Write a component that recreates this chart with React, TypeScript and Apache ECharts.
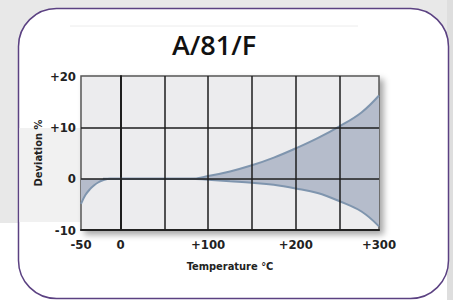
import React, { useEffect, useRef } from "react";
import * as echarts from "echarts";

// Temperature (°C) sample positions and deviation (%)
const upperTemps = [-20, 0, 50, 80, 100, 125, 150, 175, 200, 225, 250, 275, 295];
const upperDev = [0, 0, 0, 0, 0.5, 1.4, 2.6, 4.1, 5.9, 7.9, 10.2, 12.9, 16.2];
const lowerTemps = [-45, -40, -35, -30, -25, -20, -12, 0, 50, 80, 100, 125, 150, 175, 200, 225, 250, 275, 295];
const lowerDev = [-4.9, -3.2, -2.1, -1.3, -0.7, -0.3, 0, 0, 0, 0, -0.2, -0.5, -0.8, -1.2, -1.9, -2.8, -4.4, -6.4, -9.3];

const xGridValues = [0, 50, 100, 150, 200, 250];
const yGridValues = [0, 10];
const xLabelValues = [-45, 0, 100, 200, 295];
const xLabelTexts = ["-50", "0", "+100", "+200", "+300"];
const title = "A/81/F";
const xName = "Temperature °C";
const yName = "Deviation %";

const NARROW = "'DejaVu Sans Condensed', 'Liberation Sans Narrow', sans-serif";

export default function App() {
  const ref = useRef<HTMLDivElement>(null);
  useEffect(() => {
    document.body.style.margin = "0";
    const chart = echarts.init(ref.current!, null, { renderer: "svg" });
    const upper = upperTemps.map((t, i) => [t, upperDev[i]]);
    const lower = lowerTemps.map((t, i) => [t, lowerDev[i]]);
    const fill = "#b5bccb";
    const lineColor = "#7f95ae";
    const lineBase = { type: "line", smooth: 0.4, symbol: "none", silent: true };
    chart.setOption({
      animation: false,
      graphic: [
        { type: "rect", z: -10, shape: { x: 0, y: 0, width: 453, height: 223 }, style: { fill: "#e8e8e8" } },
        { type: "rect", z: -10, shape: { x: 0, y: 223, width: 453, height: 77 }, style: { fill: "#ffffff" } },
        { type: "rect", z: -10, shape: { x: 447, y: 0, width: 6, height: 300 }, style: { fill: "#dedede" } },
        {
          type: "rect",
          z: -9,
          shape: { x: 18.5, y: 8.5, width: 430, height: 290, r: 38 },
          style: { fill: "#ffffff", stroke: "#5b4182", lineWidth: 1.5 },
        },
        { type: "rect", z: -8, shape: { x: 19.5, y: 128, width: 61, height: 94 }, style: { fill: "#f1f1f1" } },
        { type: "line", z: -8, shape: { x1: 70, y1: 26, x2: 358, y2: 26 }, style: { stroke: "#ececec", lineWidth: 1 } },
        {
          type: "text",
          z: 5,
          x: 214,
          y: 44,
          style: {
            text: title,
            fill: "#111",
            font: "600 27px 'Open Sans', 'DejaVu Sans', sans-serif",
            textAlign: "center",
            textVerticalAlign: "middle",
          },
        },
      ],
      grid: {
        left: 81,
        top: 76,
        width: 298,
        height: 154,
        show: true,
        backgroundColor: "#ececee",
        borderColor: "#555",
        borderWidth: 1.5,
        shadowBlur: 6,
        shadowColor: "rgba(0,0,0,0.35)",
        shadowOffsetX: 4,
        shadowOffsetY: 4,
      },
      xAxis: {
        type: "value",
        min: -45,
        max: 295,
        name: xName,
        nameLocation: "middle",
        nameGap: 31,
        nameTextStyle: { fontFamily: NARROW, fontWeight: "bold", fontSize: 11, color: "#222" },
        axisLine: { show: true, onZero: false, lineStyle: { color: "#222", width: 2 } },
        axisTick: { show: false },
        splitLine: { show: false },
        axisLabel: {
          customValues: xLabelValues,
          formatter: (v: number) => {
            const i = xLabelValues.indexOf(v);
            return i >= 0 ? xLabelTexts[i] : "";
          },
          margin: 8,
          fontFamily: NARROW,
          fontWeight: "bold",
          fontSize: 13,
          color: "#222",
          showMinLabel: true,
          showMaxLabel: true,
        },
      },
      yAxis: {
        type: "value",
        min: -10,
        max: 20,
        interval: 10,
        name: yName,
        nameLocation: "middle",
        nameGap: 37,
        nameMoveOverlap: false,
        nameTextStyle: { fontFamily: NARROW, fontWeight: "bold", fontSize: 11, color: "#222" },
        axisLine: { show: true, lineStyle: { color: "#222", width: 2 } },
        axisTick: { show: false },
        splitLine: { show: false },
        axisLabel: {
          margin: 5,
          fontFamily: NARROW,
          fontWeight: "bold",
          fontSize: 13,
          color: "#222",
          formatter: (v: number) => (v > 0 ? "+" + v : String(v)),
        },
      },
      series: [
        { ...lineBase, data: upper, lineStyle: { width: 0 }, areaStyle: { color: fill, opacity: 1, origin: 0 }, z: 1 },
        { ...lineBase, data: lower, lineStyle: { width: 0 }, areaStyle: { color: fill, opacity: 1, origin: 0 }, z: 1 },
        {
          type: "line",
          data: [],
          z: 2,
          silent: true,
          markLine: {
            silent: true,
            symbol: ["none", "none"],
            label: { show: false },
            lineStyle: { color: "#1e1e1e", width: 1.5, type: "solid" },
            data: [
              ...xGridValues.map((v) => ({ xAxis: v })),
              ...yGridValues.map((v) => ({ yAxis: v })),
            ],
          },
        },
        { ...lineBase, data: upper, lineStyle: { color: lineColor, width: 2 }, z: 3 },
        { ...lineBase, data: lower, lineStyle: { color: lineColor, width: 2 }, z: 3 },
      ],
    });
    return () => chart.dispose();
  }, []);
  return <div ref={ref} style={{ width: 453, height: 300 }} />;
}
